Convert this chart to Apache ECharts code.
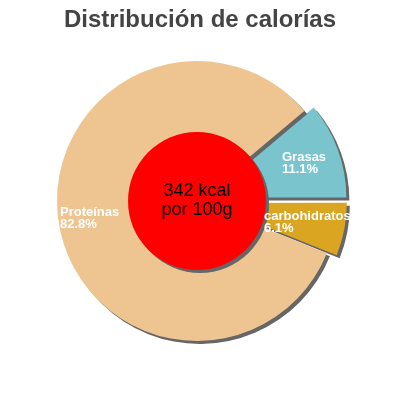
<!DOCTYPE html>
<html>
<head>
<meta charset="utf-8">
<script src="https://cdn.jsdelivr.net/npm/echarts@6/dist/echarts.min.js"></script>
<style>
  html, body { margin: 0; padding: 0; background: #fff; }
  #chart { width: 400px; height: 400px; }
</style>
</head>
<body>
<div id="chart"></div>
<script>
const categories = ["Grasas", "carbohidratos", "Proteínas"];
const shares = [11.1, 6.1, 82.8];
const exploded = [true, true, false];
const energyKcal = 342;
const energyBasis = "por 100g";

const sliceColors = ["#7AC5CD", "#DAA520", "#EEC591"];
// where each slice label sits (left edge, vertical middle)
const labelSpots = [[282, 163], [264, 222], [60, 218]];

const pieCenter = [197, 201];
const pieRadius = 140;
const startAngle = 40;
const explodeBy = 10;

const chart = echarts.init(document.getElementById("chart"));

const shadow = {
  shadowColor: "#666",
  shadowBlur: 0,
  shadowOffsetX: 3,
  shadowOffsetY: 3,
};

const total = shares.reduce((a, b) => a + b, 0);

// one pie series per slice so exploded slices can sit on a shifted center
function sliceSeries(i) {
  const before = shares.slice(0, i).reduce((a, b) => a + b, 0);
  const mid = ((startAngle - ((before + shares[i] / 2) / total) * 360) * Math.PI) / 180;
  const shift = exploded[i] ? explodeBy : 0;
  return {
    type: "pie",
    silent: true,
    center: [pieCenter[0] + shift * Math.cos(mid), pieCenter[1] - shift * Math.sin(mid)],
    radius: [0, pieRadius],
    startAngle,
    clockwise: true,
    data: categories.map((name, j) => ({
      name,
      value: shares[j],
      itemStyle: j === i ? { color: sliceColors[j], ...shadow } : { color: "rgba(0,0,0,0)" },
      label: { show: j === i },
    })),
    label: {
      position: "inside",
      color: "#fff",
      fontFamily: "Liberation Sans",
      fontSize: 13,
      fontWeight: "bold",
      lineHeight: 12,
      overflow: "none",
      formatter: (p) => p.name + "\n" + p.value.toFixed(1) + "%",
    },
    labelLine: { show: false },
    labelLayout: () => ({
      x: labelSpots[i][0],
      y: labelSpots[i][1],
      align: "left",
      verticalAlign: "middle",
    }),
  };
}

const option = {
  animation: false,
  title: {
    text: "Distribución de calorías",
    left: "center",
    top: 3,
    textStyle: {
      fontFamily: "Liberation Sans",
      fontSize: 24,
      fontWeight: "bold",
      color: "#444",
    },
  },
  series: [
    ...categories.map((_, i) => sliceSeries(i)),
    {
      type: "pie",
      center: pieCenter,
      radius: [0, 69],
      silent: true,
      data: [{ name: "energia", value: energyKcal, itemStyle: { color: "#FF0000", ...shadow } }],
      label: {
        show: true,
        position: "center",
        color: "#000",
        fontFamily: "Liberation Sans",
        fontSize: 18,
        lineHeight: 19,
        formatter: () => energyKcal + " kcal\n" + energyBasis,
      },
      labelLine: { show: false },
    },
  ],
};

chart.setOption(option);
</script>
</body>
</html>
